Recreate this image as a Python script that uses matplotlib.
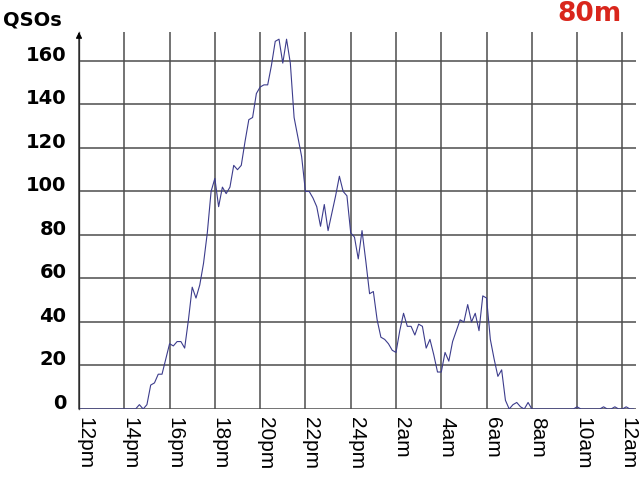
import numpy as np
import matplotlib.pyplot as plt

# QSOs per 10 minutes, starting at 12pm
qsos = [0, 0, 0, 0, 0, 0, 0, 0, 0, 0, 0, 0,
        0, 0, 0, 0, 2, 0, 2, 11, 12, 16, 16, 23,
        30, 29, 31, 31, 28, 41, 56, 51, 57, 67, 81, 100,
        106, 93, 102, 99, 102, 112, 110, 112, 123, 133, 134, 145,
        148, 149, 149, 158, 169, 170, 159, 170, 159, 134, 125, 116,
        100, 100, 97, 93, 84, 94, 82, 90, 98, 107, 100, 98,
        81, 79, 69, 82, 68, 53, 54, 41, 33, 32, 30, 27,
        26, 36, 44, 38, 38, 34, 39, 38, 28, 32, 25, 17,
        17, 26, 22, 31, 36, 41, 40, 48, 40, 44, 36, 52,
        51, 32, 23, 15, 18, 4, 0, 2, 3, 1, 0, 3,
        0, 0, 0, 0, 0, 0, 0, 0, 0, 0, 0, 0,
        1, 0, 0, 0, 0, 0, 0, 1, 0, 0, 1, 0,
        0, 1, 0, 0]
hours = np.arange(len(qsos)) / 6.0

xticks = np.arange(0, 25, 2)
xlabels = ['12pm', '14pm', '16pm', '18pm', '20pm', '22pm', '24pm',
           '2am', '4am', '6am', '8am', '10am', '12am']
yticks = np.arange(0, 161, 20)

fig = plt.figure(figsize=(6.4, 4.8), dpi=100)
ax = fig.add_axes([79/640, 71/480, 557/640, 377/480])

grid_col = '#4d4d4d'
for x in xticks:
    ax.axvline(x, color=grid_col, lw=1.1, zorder=1)
for y in yticks:
    ax.axhline(y, color=grid_col, lw=1.1, zorder=1)

ax.plot(hours, qsos, color='#3c3c8c', lw=0.8, zorder=3)

ax.set_xlim(0, 24.6)
ax.set_ylim(0, 173.3)
for s in ax.spines.values():
    s.set_visible(False)

# y axis arrow
ax.annotate('', xy=(0, 1.0), xycoords='axes fraction', xytext=(0, 0),
            arrowprops=dict(arrowstyle='-|>', color='black', lw=0.8,
                            mutation_scale=9, shrinkA=0, shrinkB=0),
            zorder=4)
ax.plot([0, 0], [0, 173.3], color='#666666', lw=1.0, zorder=2, clip_on=False)

ax.set_xticks(xticks, xlabels, rotation=270, rotation_mode='anchor',
              ha='left', va='baseline', fontsize=15, family='Liberation Sans')
ax.set_yticks(yticks, [str(v) for v in yticks], fontsize=14,
              fontweight='bold', family='DejaVu Sans')
for lab in ax.get_yticklabels():
    lab.set_va('baseline')
ax.tick_params(axis='both', length=0)
ax.tick_params(axis='x', pad=6)
ax.tick_params(axis='y', pad=9)

fig.text(3/640, 1 - 26/480, 'QSOs', ha='left', va='baseline',
         fontsize=14, fontweight='bold', family='DejaVu Sans')
fig.text(622/640, 1 - 21/480, '80m', ha='right', va='baseline',
         fontsize=19, fontweight='bold', color='#d9261c', family='DejaVu Sans')

plt.savefig('out.png', dpi=100)
